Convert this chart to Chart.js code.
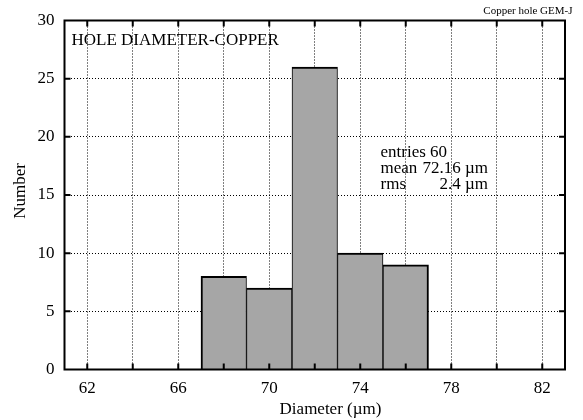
<!DOCTYPE html>
<html>
<head>
<meta charset="utf-8">
<script src="https://cdn.jsdelivr.net/npm/chart.js@4/dist/chart.umd.min.js"></script>
<style>
  html, body { margin: 0; padding: 0; background: #fff; }
  #c { display: block; }
</style>
</head>
<body>
<canvas id="c" width="583" height="420"></canvas>
<script>
// ---- data ----
const binCenters = [68, 70, 72, 74, 76];      // histogram bin centres (µm), bin width 2
const counts = [8, 7, 26, 10, 9];             // entries per bin
const xGridTicks = [62, 64, 66, 68, 70, 72, 74, 76, 78, 80, 82];
const xTickLabels = [62, 66, 70, 74, 78, 82];
const yTicks = [0, 5, 10, 15, 20, 25, 30];
const plotTitle = 'HOLE DIAMETER-COPPER';
const cornerLabel = 'Copper hole GEM-J';
const statNames = ['mean', 'rms'];
const statValues = ['72.16 \u00b5m', '2.4 \u00b5m'];
const entriesText = 'entries 60';
const xTitle = 'Diameter (\u00b5m)';
const yTitle = 'Number';

const FONT = '"Liberation Serif", "Times New Roman", Times, serif';

const framePlugin = {
  id: 'frame',
  afterDatasetsDraw(chart) {
    const { ctx, chartArea: a, scales } = chart;
    ctx.save();
    ctx.strokeStyle = '#000';
    ctx.lineWidth = 2;
    ctx.setLineDash([]);
    ctx.beginPath();
    const tl = 6;
    xGridTicks.forEach(v => {
      const x = scales.x.getPixelForValue(v);
      ctx.moveTo(x, a.bottom); ctx.lineTo(x, a.bottom - tl);
      ctx.moveTo(x, a.top); ctx.lineTo(x, a.top + tl);
    });
    yTicks.slice(1, -1).forEach(v => {
      const y = scales.y.getPixelForValue(v);
      ctx.moveTo(a.left, y); ctx.lineTo(a.left + tl, y);
      ctx.moveTo(a.right, y); ctx.lineTo(a.right - tl, y);
    });
    ctx.stroke();
    ctx.strokeRect(a.left, a.top, a.right - a.left, a.bottom - a.top);
    ctx.restore();
  },
  afterDraw(chart) {
    const { ctx } = chart;
    ctx.save();
    ctx.fillStyle = '#000';
    ctx.textBaseline = 'alphabetic';
    ctx.font = '17px ' + FONT;
    ctx.textAlign = 'left';
    ctx.fillText(plotTitle, 71.5, 44.5);
    ctx.fillText(entriesText, 380.5, 156.5);
    ctx.fillText(statNames[0], 380.5, 172.5);
    ctx.fillText(statNames[1], 380.5, 188.5);
    ctx.textAlign = 'right';
    ctx.fillText(statValues[0], 488, 172.5);
    ctx.fillText(statValues[1], 488, 188.5);
    ctx.textAlign = 'center';
    ctx.fillText(xTitle, 330.5, 413.5);
    ctx.save();
    ctx.translate(25, 191);
    ctx.rotate(-Math.PI / 2);
    ctx.fillText(yTitle, 0, 0);
    ctx.restore();
    ctx.font = '11px ' + FONT;
    ctx.textAlign = 'right';
    ctx.fillText(cornerLabel, 572.5, 14);
    ctx.restore();
  }
};

new Chart(document.getElementById('c'), {
  type: 'bar',
  data: {
    datasets: [{
      data: binCenters.map((x, i) => ({ x: x, y: counts[i] })),
      backgroundColor: '#a6a6a6',
      borderColor: '#000',
      borderWidth: (c) => ({
        top: 2,
        bottom: 0,
        left: c.dataIndex === 0 ? 2 : 1,
        right: c.dataIndex === counts.length - 1 ? 2 : 1
      }),
      borderSkipped: false,
      barPercentage: 1,
      categoryPercentage: 1
    }]
  },
  options: {
    responsive: false,
    animation: false,
    devicePixelRatio: 1,
    layout: { padding: { left: 0, top: 20.5, right: 18, bottom: 0 } },
    plugins: { legend: { display: false }, tooltip: { enabled: false }, title: { display: false } },
    scales: {
      x: {
        type: 'linear',
        min: 61,
        max: 83,
        offset: false,
        afterBuildTicks: (s) => { s.ticks = xGridTicks.map(v => ({ value: v })); },
        afterFit: (s) => { s.height = 50.5; },
        grid: { color: '#000', lineWidth: 1, drawTicks: false, offset: false },
        border: { display: false, dash: [1, 2] },
        ticks: {
          autoSkip: false,
          maxRotation: 0,
          padding: 9,
          color: '#000',
          font: { family: FONT, size: 17 },
          callback: (v) => (xTickLabels.includes(v) ? String(v) : '')
        }
      },
      y: {
        min: 0,
        max: 30,
        afterBuildTicks: (s) => { s.ticks = yTicks.map(v => ({ value: v })); },
        afterFit: (s) => { s.width = 64.5; },
        grid: { color: '#000', lineWidth: 1, drawTicks: false },
        border: { display: false, dash: [1, 2] },
        ticks: {
          padding: 10,
          color: '#000',
          font: { family: FONT, size: 17 }
        }
      }
    }
  },
  plugins: [framePlugin]
});
</script>
</body>
</html>
